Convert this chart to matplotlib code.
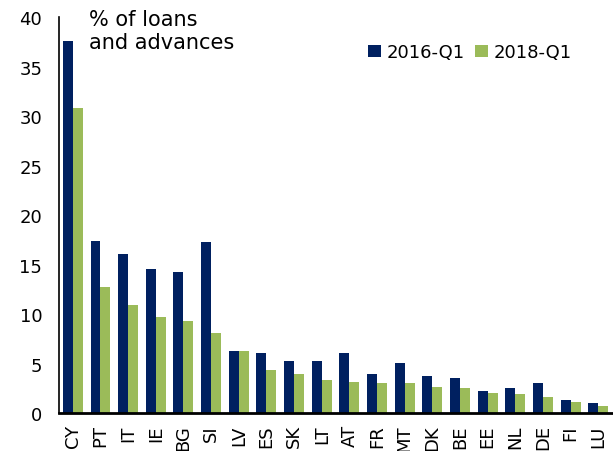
import numpy as np
import matplotlib
matplotlib.use("Agg")
import matplotlib.pyplot as plt

# data (% of loans and advances)
countries = ["CY", "PT", "IT", "IE", "BG", "SI", "LV", "ES", "SK", "LT",
             "AT", "FR", "MT", "DK", "BE", "EE", "NL", "DE", "FI", "LU"]
q1_2016 = [37.6, 17.4, 16.1, 14.6, 14.2, 17.3, 6.3, 6.1, 5.3, 5.3,
           6.1, 3.9, 5.1, 3.7, 3.5, 2.2, 2.5, 3.0, 1.3, 1.0]
q1_2018 = [30.8, 12.7, 10.9, 9.7, 9.3, 8.1, 6.3, 4.3, 3.9, 3.3,
           3.1, 3.0, 3.0, 2.6, 2.5, 2.0, 1.9, 1.6, 1.1, 0.7]
series_names = ["2016-Q1", "2018-Q1"]

navy = "#002060"
green = "#9BBB59"

fig = plt.figure(figsize=(6.13, 4.52), dpi=100)
ax = fig.add_axes([0.0962, 0.084, 0.9025, 0.876])

x = np.arange(len(countries))
w = 0.36
ax.bar(x - w / 2, q1_2016, w, color=navy, label=series_names[0])
ax.bar(x + w / 2, q1_2018, w, color=green, label=series_names[1])

ax.set_xlim(-0.5, len(countries) - 0.5)
ax.set_ylim(0, 40)
ax.set_yticks(range(0, 41, 5))
ax.set_xticks(x)
ax.set_xticklabels(countries, rotation=90, fontsize=13)
ax.tick_params(axis="y", labelsize=13, length=0, pad=12)
ax.tick_params(axis="x", length=0, pad=8)

for s in ["top", "right"]:
    ax.spines[s].set_visible(False)
ax.spines["left"].set_linewidth(1.2)
ax.spines["bottom"].set_linewidth(2)

fig.text(0.146, 0.978, "% of loans\nand advances", fontsize=15,
         va="top", ha="left", linespacing=1.2)

ax.legend(loc="upper left", bbox_to_anchor=(0.53, 0.975), ncol=2, frameon=False,
          fontsize=13, handlelength=0.7, handleheight=0.7, handletextpad=0.3,
          columnspacing=0.6)

fig.savefig("out.png", dpi=100)
